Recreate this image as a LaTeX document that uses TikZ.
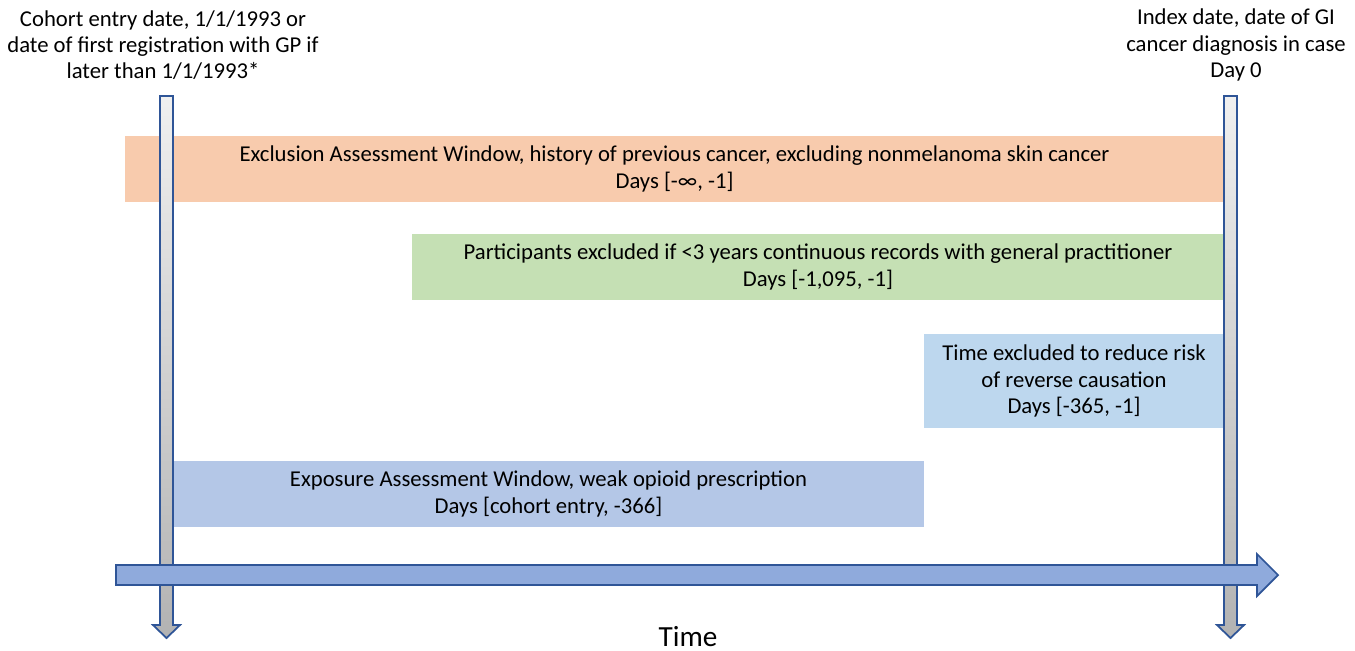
\documentclass[tikz,border=0pt]{standalone}
\usepackage{fontspec}
\setmainfont{Carlito}
\definecolor{orangebox}{HTML}{F8CBAD}
\definecolor{greenbox}{HTML}{C5E0B4}
\definecolor{lightbluebox}{HTML}{BDD7EE}
\definecolor{expbox}{HTML}{B4C7E7}
\definecolor{arrowfill}{HTML}{8FAADC}
\definecolor{arrowline}{HTML}{2F5597}
\begin{document}
\begin{tikzpicture}[x=0.01cm,y=-0.01cm,
  lbl/.style={font=\fontsize{6.45pt}{7.5pt}\selectfont, align=center, text=black, inner sep=0pt},
  vbar/.style={draw=arrowline, line width=0.5pt, top color=gray!12, bottom color=gray!60},
  timearrow/.style={draw=arrowline, line width=0.5pt, fill=arrowfill}]
\useasboundingbox (0,0) rectangle (1355,650);
% windows
\node[lbl, fill=orangebox, minimum width=10.99cm, minimum height=0.66cm] (excl) at (674.5,169)
  {Exclusion Assessment Window, history of previous cancer, excluding nonmelanoma skin cancer\\Days [-∞, -1]};
\node[lbl, fill=greenbox, minimum width=8.12cm, minimum height=0.66cm] (gp) at (818,267)
  {Participants excluded if <3 years continuous records with general practitioner\\Days [-1,095, -1]};
\node[lbl, fill=lightbluebox, minimum width=3.00cm, minimum height=0.94cm] (rev) at (1074,381)
  {Time excluded to reduce risk\\of reverse causation\\Days [-365, -1]};
\node[lbl, fill=expbox, minimum width=7.51cm, minimum height=0.66cm] (expo) at (548.5,494)
  {Exposure Assessment Window, weak opioid prescription\\Days [cohort entry, -366]};
% vertical bars
\shadedraw[vbar] (160,96) -- (173,96) -- (173,625) -- (180,625) -- (166.5,638) -- (153,625) -- (160,625) -- cycle;
\shadedraw[vbar] (1224,96) -- (1237,96) -- (1237,625) -- (1244,625) -- (1230.5,638) -- (1217,625) -- (1224,625) -- cycle;
% time arrow
\draw[timearrow] (116,565) -- (1257,565) -- (1257,554) -- (1278,575) -- (1257,596) -- (1257,585) -- (116,585) -- cycle;
% labels
\node[lbl] (cohort) at (163,45) {Cohort entry date, 1/1/1993 or\\date of first registration with GP if\\later than 1/1/1993*};
\node[lbl] (index) at (1236,45) {Index date, date of GI\\cancer diagnosis in case\\Day 0};
\node[lbl, font=\fontsize{8.3pt}{9.5pt}\selectfont] (time) at (688,637) {Time};
\end{tikzpicture}
\end{document}
